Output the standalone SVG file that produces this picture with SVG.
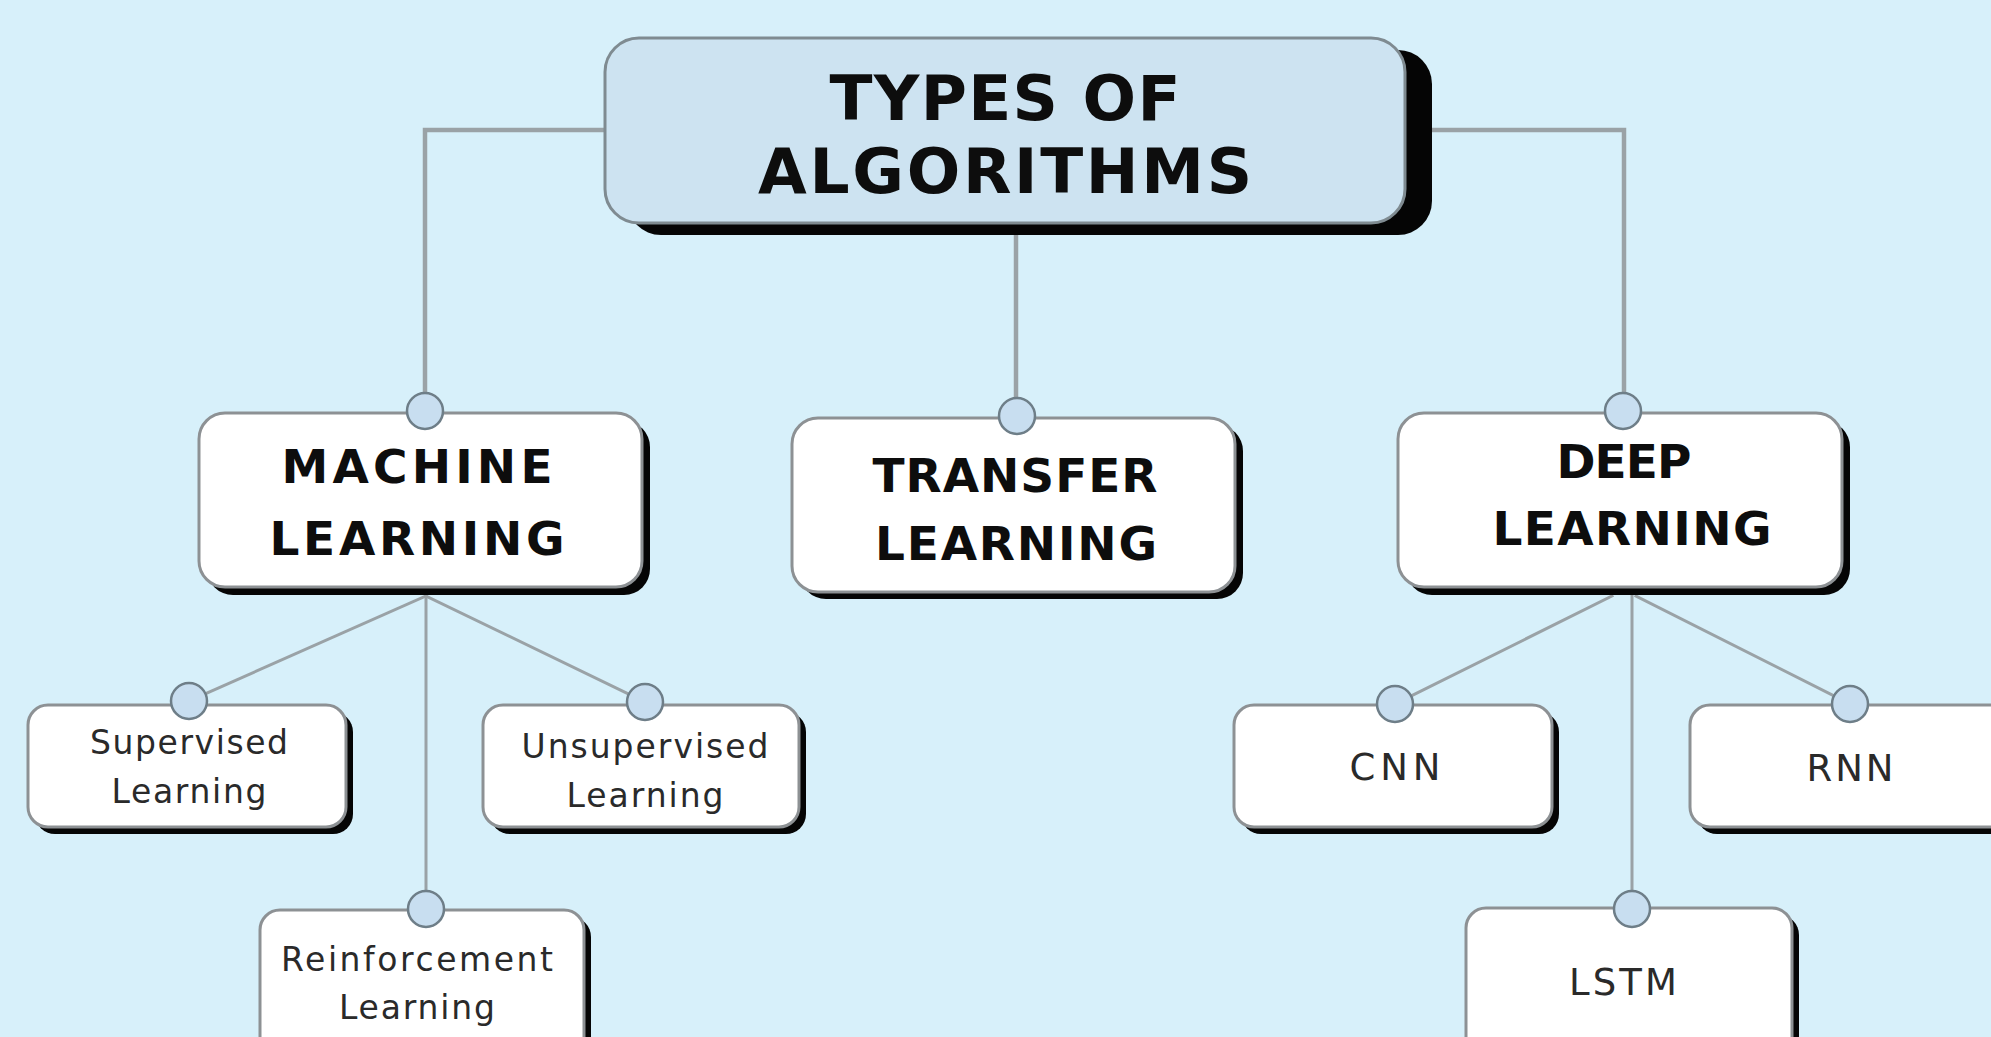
<svg xmlns="http://www.w3.org/2000/svg" width="1991" height="1037" viewBox="0 0 1991 1037">
  <style>
    .bg { fill: #d7f0fa; }
    .shadow { fill: #050505; }
    .root-box { fill: #cde3f1; stroke: #7f8b91; stroke-width: 3; }
    .box { fill: #ffffff; stroke: #8d9194; stroke-width: 3; }
    .pin { fill: #c8def0; stroke: #6e7e88; stroke-width: 2.5; }
    .wire { fill: none; stroke: #9aa2a6; stroke-linecap: square; }
    .wire-main { stroke-width: 4.5; }
    .wire-sub { stroke-width: 3; }
    .title { font-family: "DejaVu Sans", "Liberation Sans", sans-serif; font-weight: 700; font-size: 63px; fill: #0d0d0d; text-anchor: middle; }
    .head { font-family: "DejaVu Sans", "Liberation Sans", sans-serif; font-weight: 700; font-size: 47px; fill: #0d0d0d; text-anchor: middle; }
    .leaf { font-family: "DejaVu Sans", "Liberation Sans", sans-serif; font-size: 33px; fill: #2a2a2a; text-anchor: middle; }
    .leaf-lg { font-family: "DejaVu Sans", "Liberation Sans", sans-serif; font-size: 37px; fill: #2a2a2a; text-anchor: middle; }
  </style>

  <rect class="bg" x="0" y="0" width="1991" height="1037"/>

  <!-- connectors -->
  <g id="connectors">
    <polyline class="wire wire-main" points="605,130 425,130 425,395"/>
    <line class="wire wire-main" x1="1016" y1="225" x2="1016" y2="400"/>
    <polyline class="wire wire-main" points="1405,130 1624,130 1624,395"/>

    <line class="wire wire-sub" x1="426" y1="596" x2="189" y2="701"/>
    <line class="wire wire-sub" x1="426" y1="596" x2="645" y2="702"/>
    <line class="wire wire-sub" x1="426" y1="596" x2="426" y2="909"/>

    <line class="wire wire-sub" x1="1612" y1="596" x2="1395" y2="704"/>
    <line class="wire wire-sub" x1="1636" y1="596" x2="1850" y2="704"/>
    <line class="wire wire-sub" x1="1632" y1="596" x2="1632" y2="909"/>
  </g>

  <!-- root -->
  <g id="types-of-algorithms">
    <rect class="shadow" x="627" y="50" width="805" height="185" rx="34"/>
    <rect class="root-box" x="605" y="38" width="800" height="185" rx="34"/>
    <text class="title" x="1005" y="120" textLength="351">TYPES OF</text>
    <text class="title" x="1005" y="193" textLength="494">ALGORITHMS</text>
  </g>

  <!-- second level -->
  <g id="machine-learning">
    <rect class="shadow" x="207" y="421" width="443" height="174" rx="26"/>
    <rect class="box" x="199" y="413" width="443" height="174" rx="26"/>
    <circle class="pin" cx="425" cy="411" r="18"/>
    <text class="head" x="417" y="483" textLength="271">MACHINE</text>
    <text class="head" x="417" y="555" textLength="295">LEARNING</text>
  </g>

  <g id="transfer-learning">
    <rect class="shadow" x="800" y="425" width="443" height="174" rx="26"/>
    <rect class="box" x="792" y="418" width="443" height="174" rx="26"/>
    <circle class="pin" cx="1017" cy="416" r="18"/>
    <text class="head" x="1015" y="492" textLength="285">TRANSFER</text>
    <text class="head" x="1016" y="560" textLength="282">LEARNING</text>
  </g>

  <g id="deep-learning">
    <rect class="shadow" x="1406" y="421" width="444" height="174" rx="26"/>
    <rect class="box" x="1398" y="413" width="444" height="174" rx="26"/>
    <circle class="pin" cx="1623" cy="411" r="18"/>
    <text class="head" x="1624" y="478" textLength="135">DEEP</text>
    <text class="head" x="1632" y="545" textLength="279">LEARNING</text>
  </g>

  <!-- machine learning branches -->
  <g id="supervised-learning">
    <rect class="shadow" x="35" y="712" width="318" height="122" rx="20"/>
    <rect class="box" x="28" y="705" width="318" height="122" rx="20"/>
    <circle class="pin" cx="189" cy="701" r="18"/>
    <text class="leaf" x="189" y="754" textLength="198">Supervised</text>
    <text class="leaf" x="189" y="803" textLength="155">Learning</text>
  </g>

  <g id="unsupervised-learning">
    <rect class="shadow" x="490" y="712" width="316" height="122" rx="20"/>
    <rect class="box" x="483" y="705" width="316" height="122" rx="20"/>
    <circle class="pin" cx="645" cy="702" r="18"/>
    <text class="leaf" x="645" y="758" textLength="247">Unsupervised</text>
    <text class="leaf" x="645" y="807" textLength="157">Learning</text>
  </g>

  <g id="reinforcement-learning">
    <rect class="shadow" x="267" y="917" width="324" height="150" rx="20"/>
    <rect class="box" x="260" y="910" width="324" height="150" rx="20"/>
    <circle class="pin" cx="426" cy="909" r="18"/>
    <text class="leaf" x="417" y="971" textLength="272">Reinforcement</text>
    <text class="leaf" x="417" y="1019" textLength="156">Learning</text>
  </g>

  <!-- deep learning branches -->
  <g id="cnn">
    <rect class="shadow" x="1241" y="712" width="318" height="122" rx="20"/>
    <rect class="box" x="1234" y="705" width="318" height="122" rx="20"/>
    <circle class="pin" cx="1395" cy="704" r="18"/>
    <text class="leaf-lg" x="1395" y="780" textLength="91">CNN</text>
  </g>

  <g id="rnn">
    <rect class="shadow" x="1697" y="712" width="330" height="122" rx="20"/>
    <rect class="box" x="1690" y="705" width="330" height="122" rx="20"/>
    <circle class="pin" cx="1850" cy="704" r="18"/>
    <text class="leaf-lg" x="1850" y="781" textLength="87">RNN</text>
  </g>

  <g id="lstm">
    <rect class="shadow" x="1473" y="915" width="326" height="150" rx="20"/>
    <rect class="box" x="1466" y="908" width="326" height="150" rx="20"/>
    <circle class="pin" cx="1632" cy="909" r="18"/>
    <text class="leaf-lg" x="1623" y="995" textLength="108">LSTM</text>
  </g>
</svg>
